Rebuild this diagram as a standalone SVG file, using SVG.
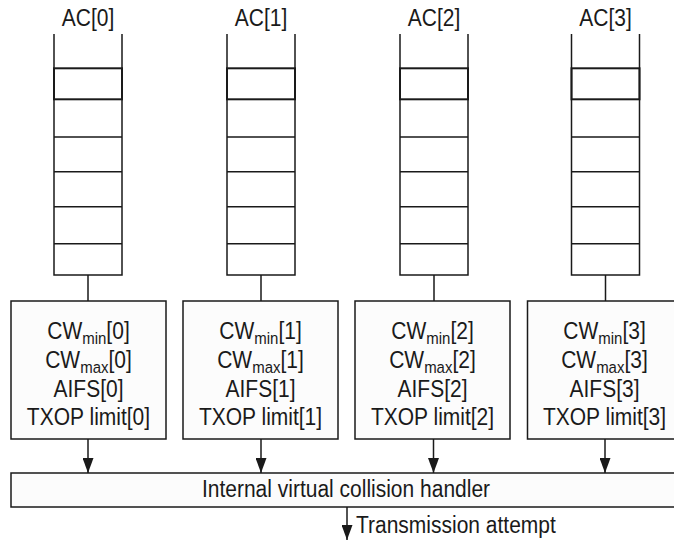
<svg xmlns="http://www.w3.org/2000/svg" width="674" height="546" viewBox="0 0 674 546">
<style>
text{font-family:"Liberation Sans",Arial,sans-serif;font-size:21px;fill:#1a1a1a;text-anchor:middle}
.q{fill:none;stroke:#1a1a1a;stroke-width:1.5}
.qt{fill:none;stroke:#1a1a1a;stroke-width:2}
.box{fill:#fcfcfc;stroke:#1a1a1a;stroke-width:1.5}
.ln{stroke:#1a1a1a;stroke-width:1.5;fill:none}
.sub{font-size:15px}
.tall{transform:scale(1,1.12)}
</style>
<defs>
<marker id="ah" markerWidth="15" markerHeight="11" refX="15" refY="5.5" orient="auto" markerUnits="userSpaceOnUse" viewBox="0 0 15 11">
<path d="M0,0 L15,5.5 L0,11 Z" fill="#1a1a1a"/>
</marker>
<g id="queue">
<path class="q" d="M-34,34 V275 H34 V34 M-34,137 H34 M-34,171.7 H34 M-34,206.7 H34 M-34,243.7 H34 M0,275 V301"/>
<rect class="qt" x="-34" y="68.3" width="68" height="31"/>
</g>
</defs>

<g id="ac0">
<use href="#queue" x="88"/>
<rect class="box" x="11" y="301" width="155" height="138"/>
<g class="tall">
<text x="88" y="23.2">AC[0]</text>
<text x="88.5" y="302.7">CW<tspan class="sub" dy="4.5">min</tspan><tspan dy="-4.5">[0]</tspan></text>
<text x="88.5" y="328.6">CW<tspan class="sub" dy="4.5">max</tspan><tspan dy="-4.5">[0]</tspan></text>
<text x="88.5" y="354.5">AIFS[0]</text>
<text x="88.5" y="379.9">TXOP limit[0]</text>
</g>
</g>

<g id="ac1">
<use href="#queue" x="261"/>
<rect class="box" x="183" y="301" width="155" height="138"/>
<g class="tall">
<text x="261" y="23.2">AC[1]</text>
<text x="260.5" y="302.7">CW<tspan class="sub" dy="4.5">min</tspan><tspan dy="-4.5">[1]</tspan></text>
<text x="260.5" y="328.6">CW<tspan class="sub" dy="4.5">max</tspan><tspan dy="-4.5">[1]</tspan></text>
<text x="260.5" y="354.5">AIFS[1]</text>
<text x="260.5" y="379.9">TXOP limit[1]</text>
</g>
</g>

<g id="ac2">
<use href="#queue" x="434"/>
<rect class="box" x="355" y="301" width="155" height="138"/>
<g class="tall">
<text x="434" y="23.2">AC[2]</text>
<text x="432.5" y="302.7">CW<tspan class="sub" dy="4.5">min</tspan><tspan dy="-4.5">[2]</tspan></text>
<text x="432.5" y="328.6">CW<tspan class="sub" dy="4.5">max</tspan><tspan dy="-4.5">[2]</tspan></text>
<text x="432.5" y="354.5">AIFS[2]</text>
<text x="432.5" y="379.9">TXOP limit[2]</text>
</g>
</g>

<g id="ac3">
<use href="#queue" x="605.5"/>
<rect class="box" x="527.5" y="301" width="160" height="138"/>
<g class="tall">
<text x="605.5" y="23.2">AC[3]</text>
<text x="604.5" y="302.7">CW<tspan class="sub" dy="4.5">min</tspan><tspan dy="-4.5">[3]</tspan></text>
<text x="604.5" y="328.6">CW<tspan class="sub" dy="4.5">max</tspan><tspan dy="-4.5">[3]</tspan></text>
<text x="604.5" y="354.5">AIFS[3]</text>
<text x="604.5" y="379.9">TXOP limit[3]</text>
</g>
</g>

<g id="handler">
<rect class="box" x="11" y="473" width="680" height="34"/>
<g class="tall">
<text x="346" y="443.8">Internal virtual collision handler</text>
</g>
</g>

<g id="connectors">
<line class="ln" x1="88" y1="439" x2="88" y2="473" marker-end="url(#ah)"/>
<line class="ln" x1="261" y1="439" x2="261" y2="473" marker-end="url(#ah)"/>
<line class="ln" x1="433.5" y1="439" x2="433.5" y2="473" marker-end="url(#ah)"/>
<line class="ln" x1="605" y1="439" x2="605" y2="473" marker-end="url(#ah)"/>
<line class="ln" x1="347" y1="507" x2="347" y2="540" marker-end="url(#ah)"/>
</g>
<g class="tall">
<text x="356" y="475.9" style="text-anchor:start">Transmission attempt</text>
</g>
</svg>
